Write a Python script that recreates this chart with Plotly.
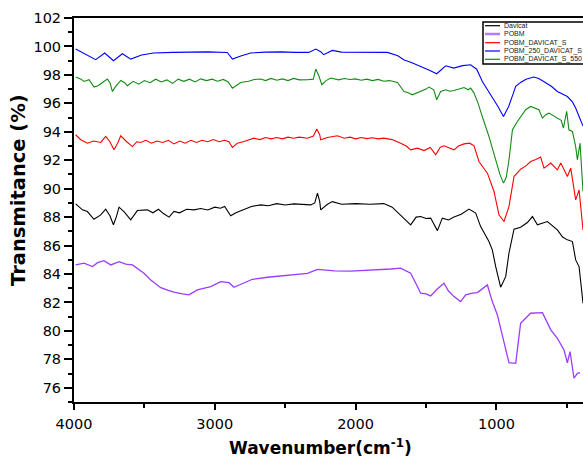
import plotly.graph_objects as go

# ---------------- data ----------------
wn_blue = [3988, 3846, 3782, 3720, 3656, 3597, 3520, 3434, 3300, 3171, 3050, 2911, 2875, 2810, 2745, 2640, 2532, 2430,
           2333, 2283, 2248, 2227, 2165, 2100, 1964, 1870, 1774, 1700, 1658, 1600, 1538, 1480, 1424, 1390, 1360, 1303,
           1240, 1183, 1140, 1100, 1060, 1029, 990, 950, 913, 880, 863, 828, 790, 735, 700, 664, 610, 567, 530, 496,
           460, 437, 410, 385]
t_blue = [99.82, 99.07, 99.54, 99.00, 99.49, 99.11, 99.40, 99.54, 99.58, 99.60, 99.62, 99.58, 99.11, 99.35, 99.54,
          99.60, 99.62, 99.58, 99.58, 99.82, 99.63, 99.42, 99.72, 99.60, 99.60, 99.60, 99.58, 99.35, 99.07, 98.85,
          98.60, 98.35, 98.08, 98.35, 98.64, 98.48, 98.65, 98.71, 98.40, 97.54, 96.90, 96.48, 95.80, 95.07, 95.78,
          96.70, 97.19, 97.47, 97.70, 97.85, 97.75, 97.54, 97.20, 96.83, 96.65, 96.48, 96.10, 95.67, 95.00, 94.40]

wn_green = [3988, 3950, 3929, 3893, 3858, 3830, 3800, 3763, 3744, 3727, 3704, 3668, 3640, 3621, 3580, 3540, 3500,
            3460, 3420, 3380, 3340, 3300, 3260, 3220, 3180, 3140, 3100, 3060, 3020, 2980, 2940, 2905, 2875, 2816,
            2760, 2720, 2674, 2640, 2600, 2560, 2520, 2480, 2440, 2400, 2342, 2300, 2283, 2260, 2240, 2210, 2177,
            2120, 2080, 2040, 2000, 1960, 1920, 1880, 1840, 1800, 1760, 1703, 1656, 1625, 1597, 1560, 1538, 1500,
            1479, 1445, 1424, 1396, 1360, 1330, 1301, 1270, 1230, 1200, 1183, 1159, 1130, 1100, 1053, 1005, 975,
            950, 930, 911, 886, 851, 820, 792, 757, 730, 698, 673, 650, 627, 590, 567, 540, 524, 501, 485, 460,
            437, 425, 406, 385]
t_green = [97.85, 97.70, 97.54, 97.66, 97.14, 97.24, 97.45, 97.71, 97.43, 96.83, 97.19, 97.61, 97.45, 97.24, 97.55,
           97.35, 97.60, 97.45, 97.70, 97.50, 97.65, 97.40, 97.70, 97.55, 97.70, 97.50, 97.72, 97.60, 97.70, 97.55,
           97.68, 97.50, 97.07, 97.47, 97.55, 97.68, 97.71, 97.60, 97.75, 97.62, 97.72, 97.60, 97.75, 97.65, 97.66,
           97.70, 98.41, 97.90, 97.31, 97.60, 97.78, 97.65, 97.75, 97.68, 97.72, 97.62, 97.70, 97.60, 97.68, 97.55,
           97.60, 97.47, 96.83, 96.75, 96.60, 96.75, 96.88, 97.00, 97.14, 96.95, 96.25, 96.83, 96.95, 96.85, 96.90,
           97.00, 97.11, 96.95, 97.07, 96.72, 96.00, 95.07, 93.67, 92.03, 91.00, 90.39, 90.80, 92.00, 94.14, 94.72,
           95.20, 95.55, 95.78, 95.65, 95.55, 94.96, 95.20, 95.31, 95.10, 94.96, 94.80, 94.26, 95.43, 94.14, 94.02,
           92.96, 92.03, 93.20, 89.80]

wn_red = [3988, 3952, 3905, 3860, 3810, 3775, 3745, 3716, 3690, 3668, 3626, 3585, 3555, 3526, 3490, 3450, 3410, 3370,
          3330, 3290, 3250, 3210, 3170, 3130, 3090, 3050, 3010, 2970, 2930, 2900, 2875, 2840, 2793, 2722, 2680, 2640,
          2600, 2560, 2520, 2480, 2440, 2400, 2342, 2300, 2276, 2255, 2248, 2200, 2129, 2080, 2040, 2000, 1960, 1920,
          1880, 1840, 1800, 1740, 1680, 1640, 1609, 1560, 1514, 1470, 1431, 1400, 1372, 1340, 1301, 1270, 1230, 1190,
          1159, 1124, 1064, 1017, 982, 946, 911, 875, 828, 790, 757, 720, 686, 662, 614, 567, 543, 496, 472, 437,
          413, 385]
t_red = [93.79, 93.44, 93.20, 93.35, 93.25, 93.67, 93.30, 92.73, 93.20, 93.72, 93.30, 92.96, 93.30, 93.25, 93.40,
         93.20, 93.35, 93.25, 93.40, 93.15, 93.35, 93.20, 93.40, 93.25, 93.40, 93.30, 93.45, 93.30, 93.40, 93.30,
         92.90, 93.20, 93.32, 93.55, 93.45, 93.60, 93.50, 93.60, 93.50, 93.62, 93.55, 93.62, 93.55, 93.70, 94.19,
         93.80, 93.44, 93.60, 93.72, 93.55, 93.62, 93.50, 93.60, 93.52, 93.58, 93.50, 93.55, 93.45, 93.20, 93.00,
         92.73, 92.85, 92.68, 92.90, 92.38, 92.90, 93.01, 92.90, 92.73, 93.00, 93.15, 93.20, 93.01, 91.91, 91.09,
         89.80, 88.16, 87.69, 88.74, 90.85, 91.37, 91.60, 91.91, 92.05, 92.22, 91.44, 91.80, 91.32, 91.80, 90.85,
         91.44, 89.21, 89.92, 87.10]

wn_black = [3988, 3940, 3905, 3858, 3810, 3775, 3745, 3720, 3700, 3680, 3645, 3597, 3550, 3479, 3440, 3400, 3365,
            3325, 3290, 3250, 3200, 3148, 3100, 3050, 3000, 2960, 2930, 2887, 2850, 2804, 2740, 2674, 2620, 2560,
            2500, 2438, 2380, 2319, 2290, 2271, 2255, 2248, 2200, 2165, 2100, 2000, 1900, 1800, 1740, 1680, 1609,
            1570, 1538, 1500, 1467, 1419, 1384, 1340, 1301, 1250, 1195, 1147, 1112, 1053, 1029, 1005, 970, 934, 911,
            875, 828, 780, 744, 709, 638, 567, 530, 496, 460, 437, 413, 395, 385]
t_black = [88.93, 88.51, 88.39, 87.85, 88.16, 88.56, 88.10, 87.46, 88.00, 88.70, 88.39, 87.81, 88.46, 88.51, 88.30,
           88.55, 88.25, 88.00, 88.40, 88.30, 88.55, 88.51, 88.60, 88.50, 88.70, 88.62, 88.75, 88.09, 88.30, 88.51,
           88.75, 88.86, 88.80, 88.95, 88.85, 88.93, 88.90, 88.86, 89.00, 89.68, 89.10, 88.51, 88.90, 89.09, 88.90,
           88.95, 88.90, 88.95, 88.70, 88.16, 87.46, 88.00, 88.04, 87.90, 87.93, 87.05, 87.93, 87.80, 88.00, 88.20,
           88.56, 88.28, 87.33, 86.28, 85.70, 84.52, 83.07, 83.81, 85.46, 87.15, 87.29, 87.62, 88.04, 87.46, 87.69,
           87.10, 86.60, 86.40, 86.28, 84.99, 84.52, 82.88, 81.94]

wn_purple = [3988, 3929, 3869, 3832, 3787, 3739, 3680, 3633, 3585, 3538, 3503, 3455, 3384, 3330, 3290, 3230, 3183,
             3124, 3070, 3029, 2958, 2899, 2864, 2793, 2733, 2626, 2550, 2484, 2400, 2342, 2271, 2248, 2150, 2035,
             1920, 1822, 1750, 1680, 1609, 1570, 1538, 1500, 1467, 1420, 1372, 1340, 1301, 1254, 1218, 1170, 1135,
             1064, 1029, 993, 950, 911, 863, 828, 757, 673, 614, 567, 520, 496, 477, 449, 425, 406]
t_purple = [84.64, 84.76, 84.52, 84.80, 84.94, 84.64, 84.87, 84.70, 84.64, 84.29, 84.05, 83.58, 83.04, 82.85, 82.72,
            82.60, 82.53, 82.88, 83.00, 83.11, 83.46, 83.39, 83.07, 83.39, 83.63, 83.77, 83.85, 83.94, 84.00, 84.05,
            84.33, 84.30, 84.22, 84.20, 84.25, 84.29, 84.35, 84.41, 84.05, 83.30, 82.65, 82.60, 82.46, 82.95, 83.35,
            82.80, 82.41, 82.06, 82.53, 82.65, 82.69, 83.23, 82.06, 81.12, 79.36, 77.76, 77.72, 80.54, 81.24, 81.28,
            80.07, 79.48, 78.66, 77.76, 78.54, 76.67, 77.02, 77.06]

series_names = ["Davicat", "POBM", "POBM_DAVICAT_S", "POBM_250_DAVICAT_S", "POBM_DAVICAT_S_550"]
series_colors = ["#000000", "#9a3cff", "#ff0000", "#0000ff", "#138a13"]
series_x = [wn_black, wn_purple, wn_red, wn_blue, wn_green]
series_y = [t_black, t_purple, t_red, t_blue, t_green]

y_ticks = list(range(76, 103, 2))
x_ticks = [4000, 3000, 2000, 1000]

# ---------------- figure ----------------
W, H = 583, 463
ML, MR, MT, MB = 74, 0, 18, 61
PW, PH = W - ML - MR, H - MT - MB


def px(x):
    return (x - ML) / PW


def py(y):
    return 1 - (y - MT) / PH


fig = go.Figure()
for name, col, xs, ys in zip(series_names, series_colors, series_x, series_y):
    fig.add_trace(go.Scatter(x=xs, y=ys, mode="lines", name=name,
                             line=dict(color=col, width=1.3 if name == "POBM" else 1.1),
                             showlegend=False))

axis_common = dict(showgrid=False, zeroline=False, showline=True, linecolor="black", linewidth=2,
                   ticks="outside", tickcolor="black", tickwidth=1.5,
                   tickfont=dict(family="DejaVu Sans", size=14.5, color="black"))

fig.update_xaxes(range=[4000, 385], tickvals=x_ticks, ticktext=[str(v) for v in x_ticks],
                 ticklen=6, mirror=True, ticklabelstandoff=2,
                 minor=dict(tickvals=[3500, 2500, 1500, 500], ticklen=4, tickcolor="black", ticks="outside"),
                 **axis_common)
fig.update_yaxes(range=[75, 102], tickvals=y_ticks, ticktext=[str(v) for v in y_ticks],
                 ticklen=8, ticklabelstandoff=0,
                 minor=dict(dtick=1, ticklen=4, tickcolor="black", ticks="outside"),
                 **axis_common)

# legend (drawn manually to match compact spacing)
leg_left, leg_top, leg_bot = 483, 22, 64
shapes = [dict(type="rect", xref="paper", yref="paper", x0=px(leg_left), x1=px(W + 5),
               y0=py(leg_bot), y1=py(leg_top), line=dict(color="black", width=1.5),
               fillcolor="white", layer="above")]
annotations = []
entry_y = [25.7, 34, 42.7, 51, 59.3]
for name, col, ey in zip(series_names, series_colors, entry_y):
    shapes.append(dict(type="line", xref="paper", yref="paper", x0=px(485), x1=px(500),
                       y0=py(ey), y1=py(ey),
                       line=dict(color="#b07dff" if name == "POBM" else col,
                                 width=2.5 if name == "POBM" else 1.2), layer="above"))
    annotations.append(dict(text=name, xref="paper", yref="paper", x=px(502), y=py(ey),
                            xanchor="left", yanchor="middle", showarrow=False,
                            font=dict(family="Liberation Sans, Arial", size=7, color="#222")))

annotations.append(dict(text="<b>Transmitance (%)</b>", xref="paper", yref="paper",
                        x=px(18), y=py(190), textangle=-90, showarrow=False,
                        xanchor="center", yanchor="middle",
                        font=dict(family="DejaVu Sans", size=19.5, color="black")))
annotations.append(dict(text="<b>Wavenumber(cm<sup>-1</sup>)</b>", xref="paper", yref="paper",
                        x=px(320), y=py(447), showarrow=False,
                        xanchor="center", yanchor="middle",
                        font=dict(family="DejaVu Sans", size=17, color="black")))

fig.update_layout(width=W, height=H, margin=dict(l=ML, r=MR, t=MT, b=MB, autoexpand=False),
                  plot_bgcolor="white", paper_bgcolor="white", showlegend=False,
                  shapes=shapes, annotations=annotations)

fig.write_html("out.html", config={"displayModeBar": False},
               post_script="document.body.style.margin='0';document.body.style.overflow='hidden';")
